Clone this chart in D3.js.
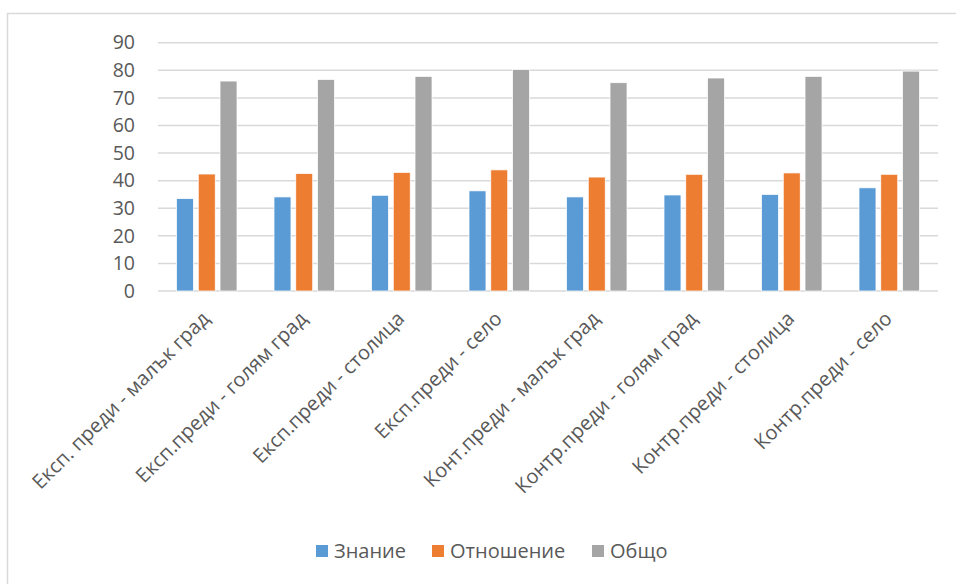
<!DOCTYPE html>
<html>
<head>
<meta charset="utf-8">
<script src="https://cdn.jsdelivr.net/npm/d3@7"></script>
<style>
  html, body { margin: 0; padding: 0; background: #fff; }
  svg { display: block; font-family: "Open Sans", "Noto Sans", sans-serif; }
</style>
</head>
<body>
<svg id="chart" width="956" height="584"></svg>
<script>
// Categories (groups along the x axis)
const categories = [
  "Експ. преди - малък град",
  "Експ.преди - голям град",
  "Експ.преди - столица",
  "Експ.преди - село",
  "Конт.преди - малък град",
  "Контр.преди - голям град",
  "Контр.преди - столица",
  "Контр.преди - село"
];

// Series names and values
const seriesNames = ["Знание", "Отношение", "Общо"];
const znanie     = [33.5, 34.1, 34.7, 36.3, 34.1, 34.8, 35.0, 37.4];
const otnoshenie = [42.4, 42.6, 43.0, 43.9, 41.3, 42.3, 42.8, 42.3];
const obshto     = [76.1, 76.7, 77.8, 80.3, 75.5, 77.2, 77.8, 79.7];
const seriesColors = ["#5b9bd5", "#ed7d31", "#a5a5a5"];

const yTicks = [0, 10, 20, 30, 40, 50, 60, 70, 80, 90];

const seriesValues = [znanie, otnoshenie, obshto];
const rows = categories.map((c, i) => ({
  category: c,
  values: seriesNames.map((s, k) => ({ series: s, value: seriesValues[k][i], color: seriesColors[k] }))
}));

const svg = d3.select("#chart");

// outer chart frame
svg.append("rect")
  .attr("x", 7.5).attr("y", 13.5)
  .attr("width", 960).attr("height", 600)
  .attr("fill", "none").attr("stroke", "#d9d9d9").attr("stroke-width", 1.5);

const plot = { left: 158, right: 938, top: 42.7, bottom: 291 };

const x = d3.scaleBand().domain(categories).range([plot.left, plot.right]).paddingInner(0).paddingOuter(0);
const y = d3.scaleLinear().domain([0, 90]).range([plot.bottom, plot.top]);

const groupWidth = 60.5;
const x1 = d3.scaleBand().domain(seriesNames).range([0, groupWidth]).paddingInner(0.22).paddingOuter(0);

// horizontal gridlines
svg.append("g")
  .selectAll("line")
  .data(yTicks)
  .join("line")
  .attr("x1", plot.left).attr("x2", plot.right)
  .attr("y1", d => y(d)).attr("y2", d => y(d))
  .attr("stroke", "#d9d9d9").attr("stroke-width", 1.5);

// y axis labels
const yAxis = d3.axisLeft(y).tickValues(yTicks).tickSize(0).tickPadding(0);
const gy = svg.append("g").attr("transform", `translate(${plot.left - 23},0)`).call(yAxis);
gy.select(".domain").remove();
gy.selectAll("text")
  .attr("fill", "#595959")
  .style("font-size", "19.5px")
  .style("font-family", "'Open Sans', 'Noto Sans', sans-serif");

// bars
const groups = svg.append("g")
  .selectAll("g")
  .data(rows)
  .join("g")
  .attr("transform", d => `translate(${x(d.category) + (x.bandwidth() - groupWidth) / 2},0)`);

groups.selectAll("rect")
  .data(d => d.values)
  .join("rect")
  .attr("x", d => x1(d.series))
  .attr("width", x1.bandwidth())
  .attr("y", d => y(d.value))
  .attr("height", d => y(0) - y(d.value))
  .attr("fill", d => d.color)
  .attr("stroke", "#ffffff")
  .attr("stroke-width", 0.75);

// category axis labels, rotated
const xAxis = d3.axisBottom(x).tickSize(0).tickPadding(0);
const gx = svg.append("g").attr("transform", `translate(0,${plot.bottom})`).call(xAxis);
gx.select(".domain").remove();
gx.selectAll("text")
  .attr("fill", "#595959")
  .style("font-size", "20px")
  .style("font-family", "'Open Sans', 'Noto Sans', sans-serif")
  .attr("text-anchor", "end")
  .attr("dy", "0.35em")
  .attr("transform", "translate(-1,24) rotate(-45)");

// legend
const legendItems = [
  { name: seriesNames[0], color: seriesColors[0], x: 316 },
  { name: seriesNames[1], color: seriesColors[1], x: 432 },
  { name: seriesNames[2], color: seriesColors[2], x: 592 }
];
const legend = svg.append("g");
const li = legend.selectAll("g").data(legendItems).join("g")
  .attr("transform", d => `translate(${d.x},545)`);
li.append("rect").attr("width", 12).attr("height", 12).attr("fill", d => d.color);
li.append("text")
  .attr("x", 18).attr("y", 6).attr("dy", "0.35em")
  .attr("fill", "#595959")
  .style("font-size", "20px")
  .text(d => d.name);
</script>
</body>
</html>
